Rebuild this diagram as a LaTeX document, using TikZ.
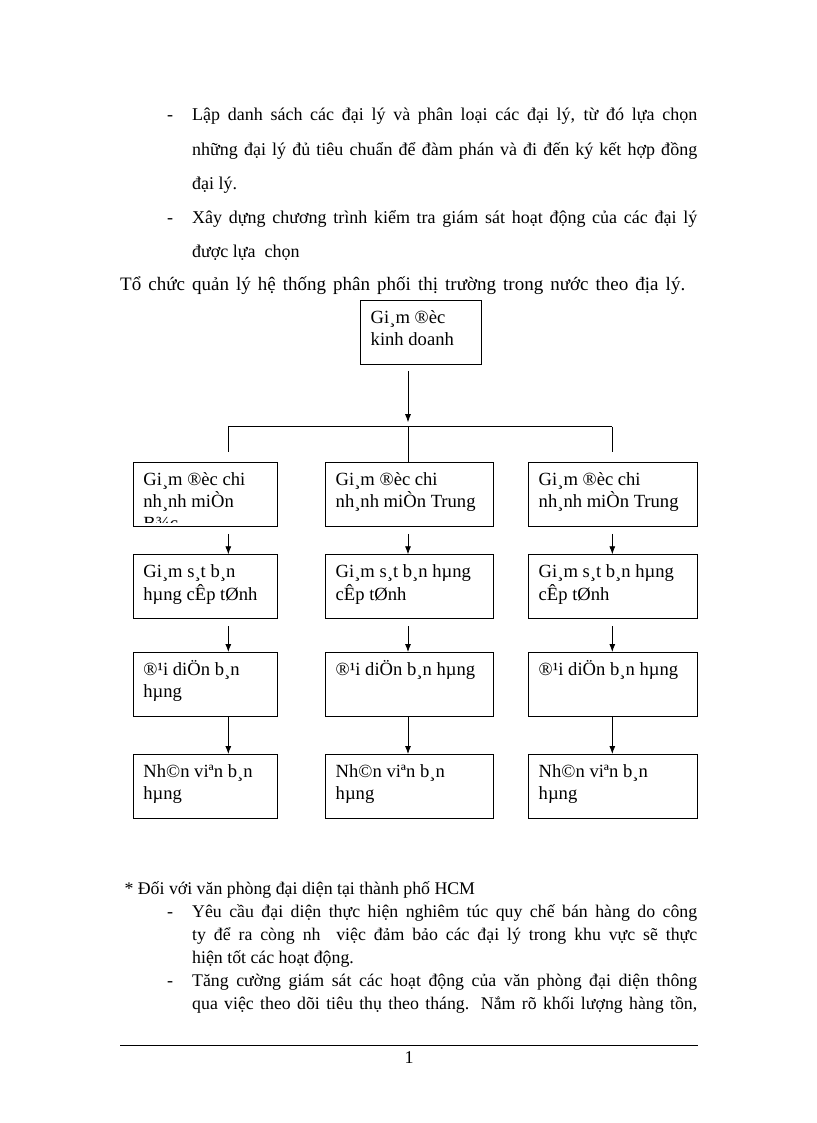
\documentclass[tikz,border=0pt]{standalone}
\usepackage{fontspec}
\setmainfont{Liberation Serif}
\usetikzlibrary{arrows.meta,calc}
\tikzset{
  box/.style={draw, line width=0.9pt, rectangle, inner sep=0pt, anchor=north west},
  btxt/.style={anchor=base west, inner sep=0pt, font=\fontsize{18.6}{21.7}\selectfont},
  body/.style={anchor=base west, inner sep=0pt, font=\fontsize{18}{21}\selectfont},
  lowbody/.style={anchor=base west, inner sep=0pt, font=\fontsize{17.8}{21}\selectfont},
  dashmark/.style={anchor=base, inner sep=0pt, font=\fontsize{18}{21}\selectfont},
  ln/.style={line width=0.8pt},
  arr/.style={line width=0.8pt, -{Latex[length=8pt,width=6pt]}}
}
\newcommand{\boxlines}[1]{\begin{tabular}[t]{@{}l@{}}#1\end{tabular}}
\newcommand{\orgbox}[6]{%
  \node[box, minimum width={(#4-#2)*1pt}, minimum height={(#5-#3)*1pt}] (#1) at (#2,#3) {};
  \node[btxt] (#1t) at ($(#1.north west)+(10.5,23.3)$) {\boxlines{#6}};
}
\newcommand{\jline}[3]{\node[body] (#1) at (192,#2) {\makebox[505pt][s]{#3}};}
\newcommand{\kline}[3]{\node[lowbody] (#1) at (192,#2) {\makebox[505pt][s]{#3}};}
\begin{document}
\begin{tikzpicture}[x=1pt,y=-1pt]
\useasboundingbox (0,0) rectangle (816,1123);
\fill[white] (0,0) rectangle (816,1123);

% top text
\node[dashmark] (d1) at (170,121) {-};
\jline{a1}{121}{Lập danh sách các đại lý và phân loại các đại lý, từ đó lựa chọn}
\jline{a2}{155.5}{những đại lý đủ tiêu chuẩn để đàm phán và đi đến ký kết hợp đồng}
\node[body] (a3) at (192,189.5) {đại lý.};
\node[dashmark] (d2) at (170,223) {-};
\jline{a4}{223}{Xây dựng chương trình kiểm tra giám sát hoạt động của các đại lý}
\node[body] (a5) at (192,257) {được lựa\ \ chọn};
\node[body, font=\fontsize{19}{21}\selectfont] (a6) at (120,290.5) {\makebox[565pt][s]{Tổ chức quản lý hệ thống phân phối thị trường trong nước theo địa lý.}};

% chart
\orgbox{top}{360}{300}{481}{364}{Gi¸m ®èc\\kinh doanh}

\orgbox{m1}{325}{461.7}{492.7}{525.7}{Gi¸m ®èc chi\\nh¸nh miÒn Trung}
\orgbox{r1}{528}{461.7}{696.7}{525.7}{Gi¸m ®èc chi\\nh¸nh miÒn Trung}
\node[box, minimum width=144pt, minimum height=64pt] (l1) at (132.7,461.7) {};
\begin{scope}
  \clip (132.7,461.7) rectangle (276.7,522.3);
  \node[btxt] (l1t) at ($(l1.north west)+(10.5,23.3)$) {\boxlines{Gi¸m ®èc chi\\nh¸nh miÒn\\B¾c}};
\end{scope}

\orgbox{l2}{132.7}{554.3}{276.7}{618.3}{Gi¸m s¸t b¸n\\hµng cÊp tØnh}
\orgbox{m2}{325}{554.3}{492.7}{618.3}{Gi¸m s¸t b¸n hµng\\cÊp tØnh}
\orgbox{r2}{528}{554.3}{696.7}{618.3}{Gi¸m s¸t b¸n hµng\\cÊp tØnh}

\orgbox{l3}{132.7}{652}{276.7}{716}{®¹i diÖn b¸n\\hµng}
\orgbox{m3}{325}{652}{492.7}{716}{®¹i diÖn b¸n hµng}
\orgbox{r3}{528}{652}{696.7}{716}{®¹i diÖn b¸n hµng}

\orgbox{l4}{132.7}{754}{276.7}{818}{Nh©n viªn b¸n\\hµng}
\orgbox{m4}{325}{754}{492.7}{818}{Nh©n viªn b¸n\\hµng}
\orgbox{r4}{528}{754}{696.7}{818}{Nh©n viªn b¸n\\hµng}

\coordinate (bus) at (408,426.7);
\coordinate (busL) at (228.3,426.7);
\coordinate (busR) at (612.3,426.7);
\draw[arr] ($(bus |- top.south)+(0,6)$) -- ($(bus)+(0,-4.5)$);
\draw[ln] (busL) -- (busR);
\draw[ln] (busL) -- ($(busL |- l1.north)+(0,-10)$);
\draw[ln] (bus) -- (bus |- m1.north);
\draw[ln] (busR) -- ($(busR |- r1.north)+(0,-10)$);

\foreach \c/\a/\b/\g in {busL/l1/l2/7.3, bus/m1/m2/7.3, busR/r1/r2/7.3,
                          busL/l2/l3/7, bus/m2/m3/7, busR/r2/r3/7,
                          busL/l3/l4/0, bus/m3/m4/0, busR/r3/r4/0}{
  \draw[arr] ($(\c |- \a.south)+(0,\g)$) -- (\c |- \b.north);
}

% bottom text
\node[lowbody] (b0) at (124.3,894) {* Đối với văn phòng đại diện tại thành phố HCM};
\node[dashmark] (d3) at (170,917) {-};
\kline{b1}{917}{Yêu cầu đại diện thực hiện nghiêm túc quy chế bán hàng do công}
\kline{b2}{940}{ty để ra còng nh \ việc đảm bảo các đại lý trong khu vực sẽ thực}
\node[lowbody] (b3) at (192,963) {hiện tốt các hoạt động.};
\node[dashmark] (d4) at (170,986) {-};
\kline{b4}{986}{Tăng cường giám sát các hoạt động của văn phòng đại diện thông}
\kline{b5}{1009}{qua việc theo dõi tiêu thụ theo tháng. Nắm rõ khối lượng hàng tồn,}

% footer
\coordinate (fl) at (120,1045);
\coordinate (fr) at (698,1045);
\draw[line width=0.8pt] (fl) -- (fr);
\node[dashmark] (pg) at (409,1063) {1};
\end{tikzpicture}
\end{document}
